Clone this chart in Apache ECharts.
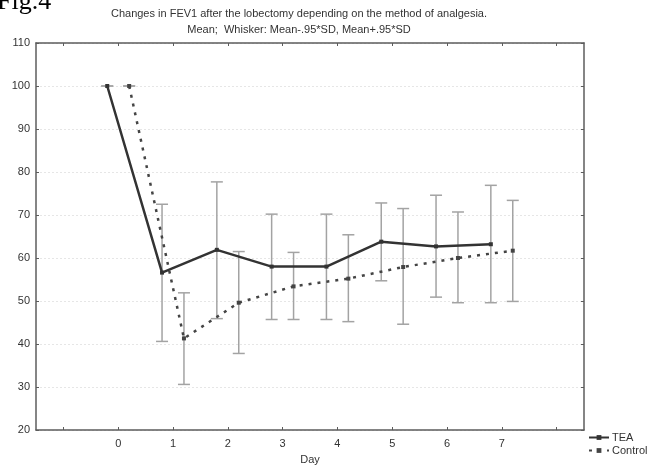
<!DOCTYPE html>
<html>
<head>
<meta charset="utf-8">
<script src="https://cdn.jsdelivr.net/npm/echarts@6/dist/echarts.min.js"></script>
<style>
  html, body { margin: 0; padding: 0; background: #fff; }
  #fevChart { width: 648px; height: 470px; }
</style>
</head>
<body>
<div id="fevChart"></div>
<script>
// values
const days = [0, 1, 2, 3, 4, 5, 6, 7]
const teaMean = [100, 56.6, 61.9, 58.0, 58.0, 63.8, 62.7, 63.2]
const teaLow = [100, 40.6, 45.9, 45.7, 45.7, 54.7, 50.9, 49.6]
const teaHigh = [100, 72.5, 77.7, 70.2, 70.2, 72.8, 74.6, 76.9]
const ctrlMean = [100, 41.3, 49.6, 53.4, 55.2, 57.9, 60.0, 61.7]
const ctrlLow = [100, 30.6, 37.8, 45.7, 45.2, 44.6, 49.6, 49.9]
const ctrlHigh = [100, 51.9, 61.5, 61.3, 65.4, 71.5, 70.7, 73.4]
const xTicks = [-1, 0, 1, 2, 3, 4, 5, 6, 7, 8]

const shift = 0.2
const font = 'Liberation Sans, Arial, sans-serif'

const teaPts = days.map((d, i) => [d - shift, teaMean[i]])
const ctrlPts = days.map((d, i) => [d + shift, ctrlMean[i]])
const teaBars = days.map((d, i) => [d - shift, teaLow[i], teaHigh[i]])
const ctrlBars = days.map((d, i) => [d + shift, ctrlLow[i], ctrlHigh[i]])

function whisker(params, api) {
  const top = api.coord([api.value(0), api.value(2)])
  const bot = api.coord([api.value(0), api.value(1)])
  const half = 6
  const style = { stroke: '#a3a3a3', lineWidth: 1.5 }
  return {
    type: 'group',
    children: [
      { type: 'line', shape: { x1: top[0], y1: top[1], x2: bot[0], y2: bot[1] }, style },
      { type: 'line', shape: { x1: top[0] - half, y1: top[1], x2: top[0] + half, y2: top[1] }, style },
      { type: 'line', shape: { x1: bot[0] - half, y1: bot[1], x2: bot[0] + half, y2: bot[1] }, style }
    ]
  }
}

const chart = echarts.init(document.getElementById('fevChart'))

const frameLine = { show: true, onZero: false, lineStyle: { color: '#5c5c5c', width: 1.5 } }
const frameTick = { show: true, inside: true, length: 3, lineStyle: { color: '#5c5c5c' } }

const option = {
  animation: false,
  backgroundColor: '#fff',
  graphic: [
    {
      type: 'text', left: -3, top: -11,
      style: { text: 'Fig.4', font: '26px "Liberation Serif", serif', fill: '#000' }
    },
    {
      type: 'text', x: 299, y: 14,
      style: {
        text: 'Changes in FEV1 after the lobectomy depending on the method of analgesia.',
        font: '11px ' + font, fill: '#333', align: 'center', verticalAlign: 'middle'
      }
    },
    {
      type: 'text', x: 299, y: 30,
      style: {
        text: 'Mean;  Whisker: Mean-.95*SD, Mean+.95*SD',
        font: '11px ' + font, fill: '#333', align: 'center', verticalAlign: 'middle'
      }
    }
  ],
  grid: { left: 36, top: 43, right: 64, bottom: 38 },
  legend: {
    orient: 'vertical',
    left: 583,
    top: 427,
    itemGap: 2,
    itemWidth: 20,
    itemHeight: 6,
    textStyle: { fontSize: 11, fontFamily: font, color: '#333', padding: [0, 0, 0, -2] },
    data: ['TEA', 'Control']
  },
  xAxis: [
    {
      type: 'value', min: -1.5, max: 8.5,
      name: 'Day', nameLocation: 'middle', nameGap: 24,
      nameTextStyle: { fontSize: 11, fontFamily: font, color: '#333' },
      axisLine: frameLine,
      axisTick: Object.assign({ customValues: xTicks }, frameTick),
      axisLabel: { customValues: days, fontSize: 11, fontFamily: font, color: '#333', margin: 8 },
      splitLine: { show: false }
    },
    {
      type: 'value', min: -1.5, max: 8.5, position: 'top',
      axisLine: frameLine,
      axisTick: Object.assign({ customValues: xTicks }, frameTick),
      axisLabel: { show: false },
      splitLine: { show: false }
    }
  ],
  yAxis: [
    {
      type: 'value', min: 20, max: 110, interval: 10,
      axisLine: frameLine,
      axisTick: frameTick,
      axisLabel: { fontSize: 11, fontFamily: font, color: '#333', margin: 6 },
      splitLine: { show: true, lineStyle: { color: '#e6e6e6', type: [2, 2] } }
    },
    {
      type: 'value', min: 20, max: 110, interval: 10, position: 'right',
      axisLine: frameLine,
      axisTick: frameTick,
      axisLabel: { show: false },
      splitLine: { show: false }
    }
  ],
  series: [
    {
      name: 'TEA whisker', type: 'custom', renderItem: whisker,
      data: teaBars, encode: { x: 0, y: [1, 2] }, z: 1, silent: true
    },
    {
      name: 'Control whisker', type: 'custom', renderItem: whisker,
      data: ctrlBars, encode: { x: 0, y: [1, 2] }, z: 1, silent: true
    },
    {
      name: 'TEA', type: 'line', data: teaPts,
      symbol: 'rect', symbolSize: 4,
      lineStyle: { color: '#333', width: 2.5 },
      itemStyle: { color: '#333' },
      z: 3
    },
    {
      name: 'Control', type: 'line', data: ctrlPts,
      symbol: 'rect', symbolSize: 4,
      lineStyle: { color: '#444', width: 2.5, type: [3, 6] },
      itemStyle: { color: '#444' },
      z: 3
    }
  ]
}

option && chart.setOption(option)
</script>
</body>
</html>
